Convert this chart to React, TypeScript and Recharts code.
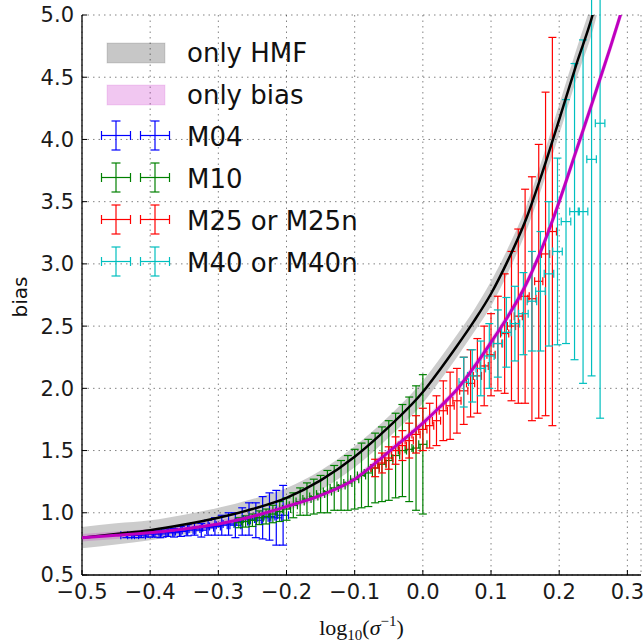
import {
  ComposedChart,
  XAxis,
  YAxis,
  CartesianGrid,
  Line,
  Area,
  Scatter,
  ErrorBar,
  Legend,
} from "recharts";

/* ── data ────────────────────────────────────────────────────────── */

const xTicks = [-0.5, -0.4, -0.3, -0.2, -0.1, 0.0, 0.1, 0.2, 0.3];
const yTicks = [0.5, 1.0, 1.5, 2.0, 2.5, 3.0, 3.5, 4.0, 4.5, 5.0];

// model curves
const curveX = [-0.5, -0.45, -0.4, -0.35, -0.3, -0.25, -0.2, -0.15, -0.1, -0.05, 0.0, 0.025, 0.05, 0.075, 0.1, 0.125, 0.15, 0.175, 0.2, 0.225, 0.25, 0.275, 0.3];
const hmfY = [0.8, 0.83, 0.86, 0.905, 0.96, 1.03, 1.12, 1.26, 1.45, 1.69, 1.97, 2.15, 2.34, 2.54, 2.76, 3.03, 3.34, 3.73, 4.16, 4.6, 5.02, 5.6, null];
const hmfSpread = [0.085, 0.085, 0.08, 0.08, 0.08, 0.08, 0.08, 0.08, 0.085, 0.085, 0.09, 0.09, 0.09, 0.09, 0.1, 0.1, 0.1, 0.11, 0.12, 0.12, 0.13, 0.13, null];
const biasY = [0.8, 0.82, 0.84, 0.87, 0.91, 0.97, 1.05, 1.14, 1.27, 1.49, 1.72, 1.85, 1.99, 2.17, 2.37, 2.58, 2.82, 3.13, 3.5, 3.91, 4.32, 4.74, 5.18];
const biasSpread = [0.03, 0.03, 0.03, 0.03, 0.03, 0.03, 0.03, 0.03, 0.03, 0.03, 0.03, 0.03, 0.03, 0.035, 0.035, 0.035, 0.04, 0.04, 0.045, 0.05, 0.05, 0.05, 0.05];

// M04
const m04X = [-0.435, -0.425, -0.415, -0.405, -0.395, -0.385, -0.375, -0.365, -0.355, -0.345, -0.335, -0.325, -0.315, -0.305, -0.295, -0.285, -0.275, -0.265, -0.255, -0.245, -0.235, -0.225, -0.215, -0.205];
const m04Y = [0.82, 0.82, 0.82, 0.83, 0.83, 0.83, 0.84, 0.84, 0.85, 0.86, 0.87, 0.86, 0.88, 0.89, 0.9, 0.91, 0.9, 0.93, 0.95, 0.94, 0.96, 0.97, 0.96, 0.98];
const m04Err = [0.02, 0.02, 0.02, 0.025, 0.025, 0.03, 0.03, 0.035, 0.04, 0.045, 0.05, 0.055, 0.06, 0.07, 0.08, 0.09, 0.1, 0.11, 0.13, 0.14, 0.17, 0.19, 0.22, 0.24];
const m04XErr = 0.008;

// M10
const m10X = [-0.27, -0.26, -0.25, -0.24, -0.23, -0.22, -0.21, -0.2, -0.19, -0.18, -0.17, -0.16, -0.15, -0.14, -0.13, -0.12, -0.11, -0.1, -0.09, -0.08, -0.07, -0.06, -0.05, -0.04, -0.03, -0.02, -0.01, 0.0];
const m10Y = [0.92, 0.93, 0.94, 0.96, 0.97, 0.99, 1.01, 1.03, 1.06, 1.09, 1.11, 1.13, 1.15, 1.17, 1.2, 1.22, 1.24, 1.27, 1.3, 1.32, 1.36, 1.39, 1.42, 1.46, 1.5, 1.51, 1.52, 1.55];
const m10Err = [0.04, 0.045, 0.05, 0.055, 0.06, 0.07, 0.08, 0.09, 0.1, 0.11, 0.13, 0.14, 0.15, 0.17, 0.18, 0.2, 0.22, 0.24, 0.26, 0.27, 0.28, 0.3, 0.32, 0.34, 0.37, 0.42, 0.5, 0.56];
const m10XErr = 0.006;

// M25 or M25n
const m25X = [-0.07, -0.06, -0.05, -0.04, -0.03, -0.02, -0.01, 0.0, 0.01, 0.02, 0.03, 0.04, 0.05, 0.06, 0.07, 0.08, 0.09, 0.1, 0.11, 0.12, 0.13, 0.14, 0.15, 0.16, 0.17, 0.18, 0.19];
const m25Y = [1.36, 1.4, 1.44, 1.5, 1.54, 1.58, 1.63, 1.67, 1.7, 1.74, 1.82, 1.86, 1.9, 1.98, 2.04, 2.1, 2.18, 2.27, 2.36, 2.44, 2.5, 2.58, 2.74, 2.72, 2.86, 3.08, 3.26];
const m25Err = [0.07, 0.08, 0.09, 0.11, 0.12, 0.14, 0.15, 0.17, 0.18, 0.2, 0.24, 0.27, 0.26, 0.27, 0.27, 0.3, 0.32, 0.33, 0.38, 0.48, 0.6, 0.7, 0.86, 0.98, 1.1, 1.3, 1.56];
const m25XErr = 0.006;

// M40 or M40n
const m40X = [0.06, 0.0725, 0.085, 0.0975, 0.11, 0.1225, 0.135, 0.1475, 0.16, 0.1725, 0.185, 0.1975, 0.21, 0.2225, 0.235, 0.2475, 0.26];
const m40Y = [2.05, 2.1, 2.16, 2.26, 2.36, 2.45, 2.52, 2.6, 2.7, 2.78, 2.92, 3.1, 3.34, 3.42, 3.42, 3.84, 4.13];
const m40Err = [0.2, 0.21, 0.22, 0.26, 0.27, 0.28, 0.3, 0.33, 0.4, 0.48, 0.58, 0.75, 0.98, 1.19, 1.38, 1.74, 2.37];
const m40XErr = 0.007;

/* ── tables for the library ──────────────────────────────────────── */

const curveData = curveX.map((x, i) => ({
  x,
  hmf: hmfY[i],
  hmfRange: hmfY[i] == null ? null : [hmfY[i] - hmfSpread[i], hmfY[i] + hmfSpread[i]],
  bias: biasY[i],
  biasRange: biasY[i] == null ? null : [biasY[i] - biasSpread[i], biasY[i] + biasSpread[i]],
}));

const toPoints = (xs: number[], ys: number[], errs: number[], xErr: number) =>
  xs.map((x, i) => ({ x, y: ys[i], ey: errs[i], ex: xErr }));

const series = [
  { name: "M04", color: "#0000ff", data: toPoints(m04X, m04Y, m04Err, m04XErr) },
  { name: "M10", color: "#008000", data: toPoints(m10X, m10Y, m10Err, m10XErr) },
  { name: "M25 or M25n", color: "#ff0000", data: toPoints(m25X, m25Y, m25Err, m25XErr) },
  { name: "M40 or M40n", color: "#00bfbf", data: toPoints(m40X, m40Y, m40Err, m40XErr) },
];

/* ── helpers ─────────────────────────────────────────────────────── */

const FONT = "'DejaVu Sans', sans-serif";
const fmt = (v: number) => (v < 0 ? "\u2212" : "") + Math.abs(v).toFixed(1);
const noMarker = () => <g />;

function Cross({ cx, cy, color }: { cx: number; cy: number; color: string }) {
  const h = 14.5;
  const c = 4.5;
  return (
    <g stroke={color} strokeWidth={1.2}>
      <line x1={cx - h} y1={cy} x2={cx + h} y2={cy} />
      <line x1={cx} y1={cy - h} x2={cx} y2={cy + h} />
      <line x1={cx - h} y1={cy - c} x2={cx - h} y2={cy + c} />
      <line x1={cx + h} y1={cy - c} x2={cx + h} y2={cy + c} />
      <line x1={cx - c} y1={cy - h} x2={cx + c} y2={cy - h} />
      <line x1={cx - c} y1={cy + h} x2={cx + c} y2={cy + h} />
    </g>
  );
}

function renderLegend() {
  const textX = 187;
  return (
    <svg width={420} height={300} style={{ display: "block" }}>
      <rect x={107} y={43} width={58} height={20} fill="#000" fillOpacity={0.22} stroke="#000" strokeOpacity={0.12} />
      <text x={textX} y={62} fontFamily={FONT} fontSize={26} fill="#111">only HMF</text>
      <rect x={107} y={85} width={58} height={20} fill="#bf00bf" fillOpacity={0.22} stroke="#bf00bf" strokeOpacity={0.12} />
      <text x={textX} y={104} fontFamily={FONT} fontSize={26} fill="#111">only bias</text>
      {series.map((s, i) => {
        const cy = 135.5 + i * 42;
        return (
          <g key={s.name}>
            <Cross cx={116} cy={cy} color={s.color} />
            <Cross cx={155} cy={cy} color={s.color} />
            <text x={textX} y={cy + 10} fontFamily={FONT} fontSize={26} fill="#111">{s.name}</text>
          </g>
        );
      })}
    </svg>
  );
}

function XLabel(props: any) {
  const { viewBox } = props;
  const cx = viewBox.x + viewBox.width / 2;
  const y = viewBox.y + 60;
  return (
    <text x={cx} y={y} textAnchor="middle" fontFamily="'Liberation Serif', serif" fontSize={22} fill="#111">
      log
      <tspan dy={5} fontSize={15}>10</tspan>
      <tspan dy={-5}>(</tspan>
      <tspan fontStyle="italic">σ</tspan>
      <tspan dy={-9} fontSize={15}>−1</tspan>
      <tspan dy={9}>)</tspan>
    </text>
  );
}

function YLabel() {
  return (
    <text x={27} y={297} transform="rotate(-90, 27, 297)" textAnchor="middle" fontFamily={FONT} fontSize={20} fill="#111">
      bias
    </text>
  );
}

/* ── chart ───────────────────────────────────────────────────────── */

export default function App() {
  const tickStyle = { fontSize: 21, fill: "#1a1a1a", fontFamily: FONT };
  const axisLine = { stroke: "#000", strokeWidth: 1.3 };
  const tickLine = { stroke: "#000", strokeWidth: 1 };
  return (
    <div style={{ position: "absolute", left: 0, top: 0, background: "#fff" }}>
      <ComposedChart width={644} height={643} margin={{ top: 15, right: 3, left: 0, bottom: 0 }}>
        <CartesianGrid stroke="#000" strokeOpacity={0.55} strokeWidth={0.9} strokeDasharray="1.5 4" />
        <XAxis
          dataKey="x"
          type="number"
          domain={[-0.5, 0.32]}
          allowDataOverflow
          ticks={xTicks}
          tickFormatter={fmt}
          tick={tickStyle}
          tickSize={-5}
          tickMargin={14}
          axisLine={axisLine}
          tickLine={tickLine}
          height={68}
          label={<XLabel />}
        />
        <XAxis
          xAxisId="top"
          orientation="top"
          dataKey="x"
          type="number"
          domain={[-0.5, 0.32]}
          allowDataOverflow
          ticks={xTicks}
          tickFormatter={() => ""}
          tickSize={-5}
          axisLine={axisLine}
          tickLine={tickLine}
          height={0}
        />
        <YAxis
          type="number"
          domain={[0.5, 5]}
          allowDataOverflow
          ticks={yTicks}
          tickFormatter={(v: number) => v.toFixed(1)}
          tick={tickStyle}
          tickSize={-5}
          tickMargin={13}
          axisLine={axisLine}
          tickLine={tickLine}
          width={82}
          label={<YLabel />}
        />
        <YAxis
          yAxisId="right"
          orientation="right"
          type="number"
          domain={[0.5, 5]}
          allowDataOverflow
          ticks={yTicks}
          tickFormatter={() => ""}
          tickSize={-5}
          axisLine={axisLine}
          tickLine={tickLine}
          width={0}
        />

        <Area
          data={curveData}
          dataKey="hmfRange"
          type="monotone"
          stroke="none"
          fill="#000"
          fillOpacity={0.2}
          isAnimationActive={false}
        />
        <Area
          data={curveData}
          dataKey="biasRange"
          type="monotone"
          stroke="none"
          fill="#bf00bf"
          fillOpacity={0.2}
          isAnimationActive={false}
        />

        {series.map((s) => (
          <Scatter key={s.name} name={s.name} data={s.data} dataKey="y" shape={noMarker} isAnimationActive={false}>
            <ErrorBar dataKey="ey" direction="y" width={4} stroke={s.color} strokeWidth={1.2} />
            <ErrorBar dataKey="ex" direction="x" width={4} stroke={s.color} strokeWidth={1.2} />
          </Scatter>
        ))}

        <Line
          data={curveData}
          dataKey="hmf"
          type="monotone"
          stroke="#000"
          strokeWidth={2.5}
          dot={false}
          isAnimationActive={false}
          zIndex={1000}
        />
        <Line
          data={curveData}
          dataKey="bias"
          type="monotone"
          stroke="#bf00bf"
          strokeWidth={3}
          dot={false}
          isAnimationActive={false}
          zIndex={1000}
        />

        <Legend
          layout="vertical"
          align="center"
          verticalAlign="middle"
          wrapperStyle={{ left: 0, top: 0, width: 420, height: 300 }}
          content={renderLegend}
        />
      </ComposedChart>
    </div>
  );
}
